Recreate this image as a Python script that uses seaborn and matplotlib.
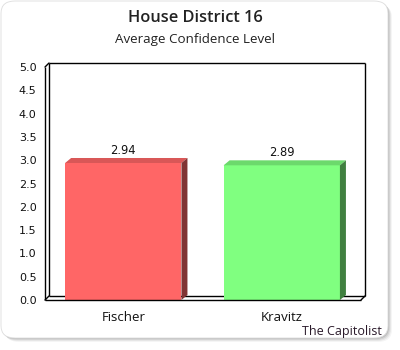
import numpy as np
import matplotlib
matplotlib.use("Agg")
import matplotlib.pyplot as plt
import seaborn as sns
from matplotlib.patches import FancyBboxPatch, Polygon
from matplotlib.lines import Line2D
from matplotlib.transforms import ScaledTranslation

# ---- data ----
candidates = ["Fischer", "Kravitz"]
confidence = [2.94, 2.89]
front_colors = ["#FF6666", "#80FF80"]
top_colors = ["#D95757", "#6CD96C"]
side_colors = ["#803333", "#408040"]
y_ticks = [0.0, 0.5, 1.0, 1.5, 2.0, 2.5, 3.0, 3.5, 4.0, 4.5, 5.0]
title = "House District 16"
subtitle = "Average Confidence Level"
credit = "The Capitolist"

sns.set_theme(style="white")
plt.rcParams["font.family"] = ["Open Sans", "DejaVu Sans"]

W, H, DPI = 400, 350, 100
fig = plt.figure(figsize=(W / DPI, H / DPI), dpi=DPI)
fig.patch.set_facecolor("white")

def px(x, y):
    return (x / W, 1 - y / H)

# card shadow + card
for i, a in enumerate([0.04, 0.06, 0.08, 0.10]):
    off = 4 - i
    sh = FancyBboxPatch(px(1 + off, 338 + off), (388 - 1) / W, (338 - 1) / H,
                        boxstyle="round,pad=0,rounding_size=0.035",
                        transform=fig.transFigure, facecolor="black", alpha=a,
                        edgecolor="none", zorder=-12)
    fig.add_artist(sh)
card = FancyBboxPatch(px(1, 338), (388 - 1) / W, (338 - 1) / H,
                      boxstyle="round,pad=0,rounding_size=0.035",
                      transform=fig.transFigure, facecolor="white",
                      edgecolor="#dddddd", linewidth=0.6, zorder=-10)
fig.add_artist(card)

# axes (front plane)
L, R, T, B = 45, 361, 67, 300
ax = fig.add_axes([L / W, 1 - B / H, (R - L) / W, (B - T) / H])
ax.set_facecolor("none")

sns.barplot(x=candidates, y=confidence, hue=candidates, palette=front_colors,
            saturation=1, width=0.734, legend=False, ax=ax, zorder=3,
            linewidth=0, edgecolor="none")
ax.set_xlim(-0.494, 1.5)
ax.set_ylim(0, 5)
for s in ax.spines.values():
    s.set_visible(False)

# 3D faces of the bars
inv = ax.transData.inverted()
def data_offset(dx_px, dy_px):
    o = ax.transData.transform((0, 0))
    p = inv.transform((o[0] + dx_px, o[1] + dy_px))
    return p[0], p[1]

bdx, bdy = data_offset(6, 5)
for i, p in enumerate(ax.patches):
    x0, w, h = p.get_x(), p.get_width(), p.get_height()
    top = Polygon([(x0, h), (x0 + w, h), (x0 + w + bdx, h + bdy), (x0 + bdx, h + bdy)],
                  closed=True, facecolor=top_colors[i], edgecolor="none",
                  zorder=3, clip_on=False)
    side = Polygon([(x0 + w, 0), (x0 + w + bdx, bdy), (x0 + w + bdx, h + bdy), (x0 + w, h)],
                   closed=True, facecolor=side_colors[i], edgecolor="none",
                   zorder=3, clip_on=False)
    ax.add_patch(top)
    ax.add_patch(side)
    ax.annotate(f"{confidence[i]:.2f}", (x0 + w / 2, h), xytext=(0, 4.5),
                textcoords="offset points", ha="center", va="bottom",
                fontsize=8.3, family="DejaVu Sans", color="#111111")

# 3D box lines
off = ScaledTranslation(4 / DPI, 4 / DPI, fig.dpi_scale_trans)
back = ax.transAxes + off
lw = 1.0
def line(xs, ys, tr, z=1):
    ax.add_line(Line2D(xs, ys, transform=tr, color="black", lw=lw,
                       clip_on=False, zorder=z, solid_capstyle="butt"))

line([0, 0], [0, 1], back)
line([0, 1], [1, 1], back)
line([1, 1], [0, 1], back)
line([0, 1], [0, 0], back)
line([0, 0], [0, 1], ax.transAxes, 5)
line([0, 1], [0, 0], ax.transAxes, 5)
# diagonals
for (xa, ya) in [(0, 1), (0, 0), (1, 0)]:
    d0 = ax.transAxes.transform((xa, ya))
    d1 = back.transform((xa, ya))
    ax.add_line(Line2D([d0[0], d1[0]], [d0[1], d1[1]], transform=None,
                       color="black", lw=lw, clip_on=False, zorder=5))

ax.set_yticks(y_ticks)
ax.set_yticklabels([f"{v:.1f}" for v in y_ticks], family="DejaVu Sans",
                   fontsize=8, color="#111111")
ax.tick_params(axis="y", length=0, pad=6)
ax.tick_params(axis="x", length=0, pad=8, labelsize=9.5, labelcolor="#111111")
ax.set_xlabel("")
ax.set_ylabel("")

fig.text(195 / W, 1 - 18 / H, title, ha="center", va="center",
         fontsize=11.8, fontweight="semibold", color="#222222")
fig.text(195 / W, 1 - 40 / H, subtitle, ha="center", va="center",
         fontsize=9.6, color="#222222")
fig.text(382 / W, 1 - 332 / H, credit, ha="right", va="center",
         fontsize=9, color="#2a1a2a")

fig.savefig("out.png", dpi=DPI)
